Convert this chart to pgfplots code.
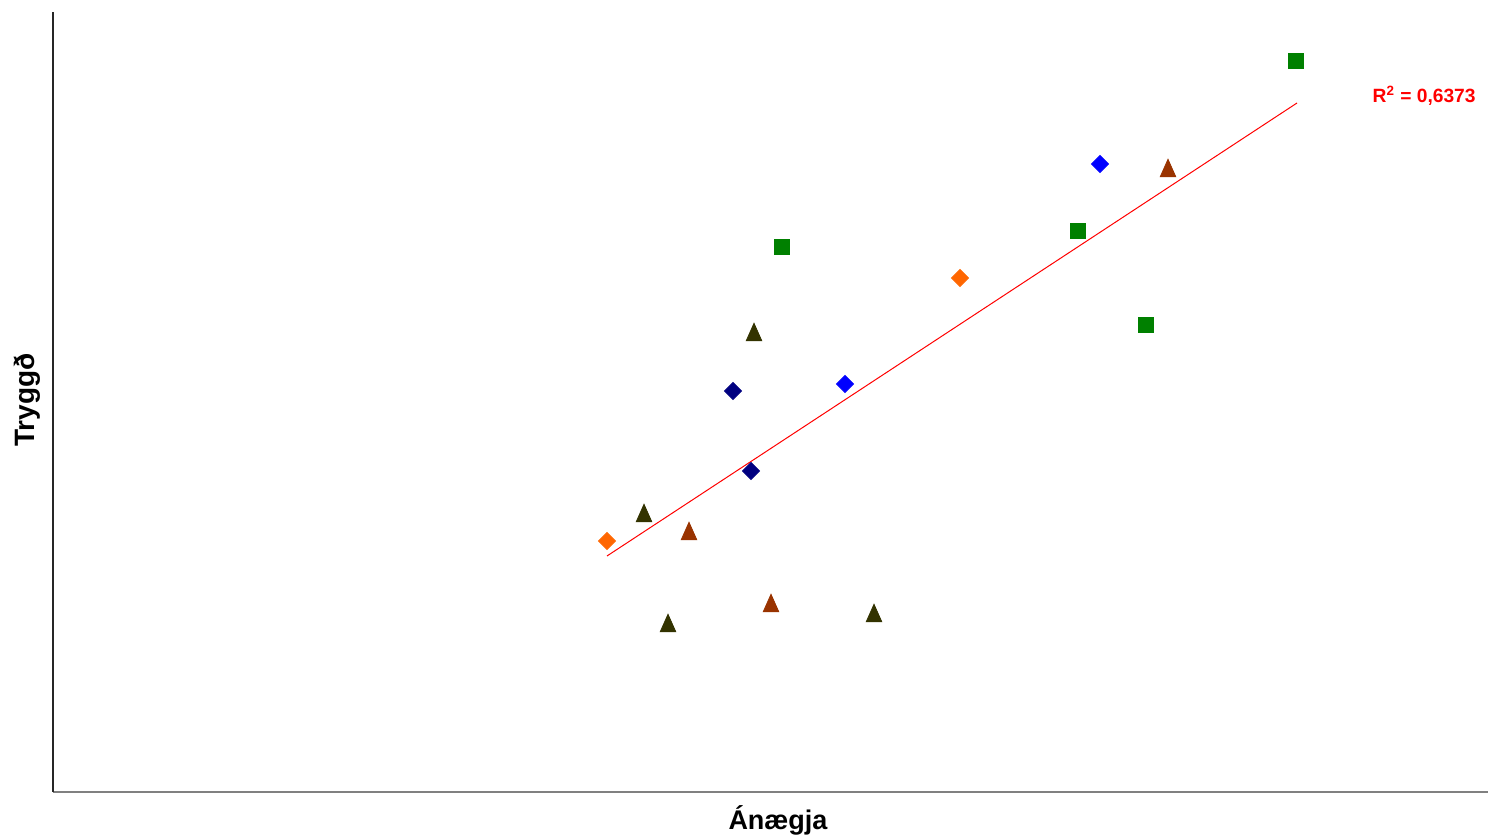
\documentclass[border=0pt]{standalone}
\usepackage{fontspec}
\setmainfont{Liberation Sans}
\usepackage{pgfplots}
\pgfplotsset{compat=1.18}
\definecolor{corange}{HTML}{FF6600}
\definecolor{colive}{HTML}{333300}
\definecolor{cbrown}{HTML}{993300}
\definecolor{cgreen}{HTML}{008000}
\definecolor{cnavy}{HTML}{000080}
\definecolor{cblue}{HTML}{0000FF}
\begin{document}
\begin{tikzpicture}
\begin{axis}[
  name=ax,
  scale only axis,
  width=717.5pt, height=390pt,
  xmin=53, xmax=1488, ymin=47, ymax=827,
  axis x line=bottom, axis y line=left,
  x axis line style={-, draw=black!50, line width=0.9pt},
  y axis line style={-, draw=black!85, line width=0.6pt},
  ticks=none,
  clip=false,
]
% trend line
\addplot[red, line width=0.5pt, no marks] coordinates {(607,283) (1297,736)};
% orange diamonds
\addplot[only marks, mark=square*, mark size=3pt, mark options={rotate=45, fill=corange, draw=corange}] coordinates {(607,298) (960,561)};
% olive triangles
\addplot[only marks, mark=triangle*, mark size=4.5pt, mark options={yscale=1.3, fill=colive, draw=colive}] coordinates {(644,323) (668,213) (754,504) (874,223)};
% brown triangles
\addplot[only marks, mark=triangle*, mark size=4.5pt, mark options={yscale=1.3, fill=cbrown, draw=cbrown}] coordinates {(689,305) (771,233) (1168,668)};
% green squares
\addplot[only marks, mark=square*, mark size=3.6pt, mark options={fill=cgreen, draw=cgreen}] coordinates {(782,592) (1078,608) (1146,514) (1296,778)};
% navy diamonds
\addplot[only marks, mark=square*, mark size=3pt, mark options={rotate=45, fill=cnavy, draw=cnavy}] coordinates {(733,448) (751,368)};
% blue diamonds
\addplot[only marks, mark=square*, mark size=3pt, mark options={rotate=45, fill=cblue, draw=cblue}] coordinates {(845,455) (1100,675)};
\node[anchor=east, text=red, font=\bfseries\fontsize{9.6}{12}\selectfont, inner sep=0pt] at (axis cs:1476,743) {R\textsuperscript{2} = 0,6373};
\node[font=\bfseries\fontsize{13.5}{16}\selectfont, inner sep=0pt] at (axis cs:778,19) {Ánægja};
\node[rotate=90, font=\bfseries\fontsize{14}{16}\selectfont, inner sep=0pt] at (axis cs:27,439) {Tryggð};
\end{axis}
\pgfresetboundingbox
\path ([shift={(-26.5pt,-23.5pt)}]ax.south west) rectangle ([shift={(0pt,6pt)}]ax.north east);
\end{tikzpicture}
\end{document}
